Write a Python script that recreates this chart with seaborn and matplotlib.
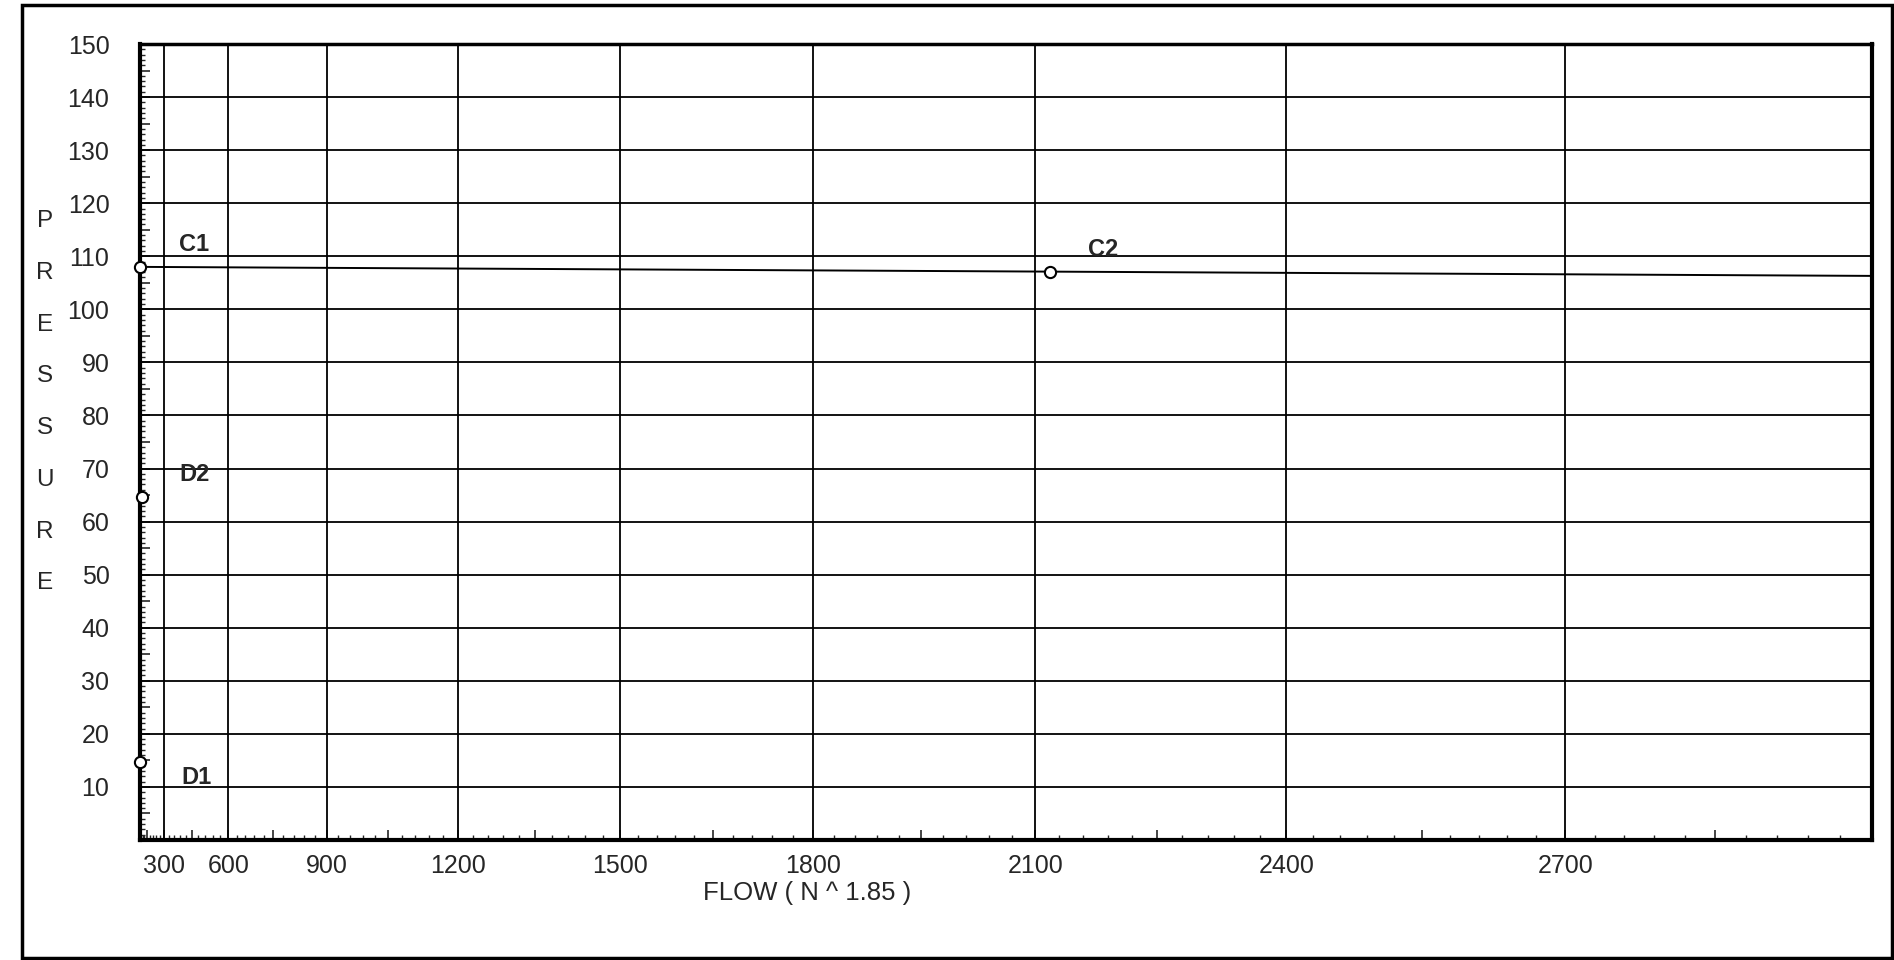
import numpy as np
import pandas as pd
import matplotlib
matplotlib.use("Agg")
import matplotlib.pyplot as plt
import matplotlib.ticker as mticker
from matplotlib.patches import Rectangle
import seaborn as sns

# Data (flow in gpm, pressure in psi)
point_labels = ["C1", "C2", "D2", "D1"]
point_flow = [0, 2118, 75, 0]
point_pressure = [108.0, 107.1, 64.6, 14.7]

supply_flow = [0, 3000]
supply_pressure = [108.0, 106.3]

x_tick_values = [300, 600, 900, 1200, 1500, 1800, 2100, 2400, 2700]
y_tick_values = [10, 20, 30, 40, 50, 60, 70, 80, 90, 100, 110, 120, 130, 140, 150]

# label offsets in points (dx, dy)
label_offsets = {"C1": (28, 16), "C2": (28, 16), "D2": (27, 16), "D1": (30, -11.5)}


def forward(x):
    x = np.asarray(x, dtype=float)
    return np.sign(x) * np.abs(x) ** 1.85


def inverse(x):
    x = np.asarray(x, dtype=float)
    return np.sign(x) * np.abs(x) ** (1 / 1.85)


sns.set_style("white")
plt.rcParams['font.family'] = ['Liberation Sans', 'DejaVu Sans']

fig = plt.figure(figsize=(18.94, 9.6), dpi=100)
ax = fig.add_axes([140 / 1894, 1 - 840 / 960, 1732 / 1894, 796 / 960])

ax.set_xscale('function', functions=(forward, inverse))
ax.set_xlim(0, 3000)
ax.set_ylim(0, 150)

# grid lines drawn by hand so that tick levels can differ
for xv in x_tick_values:
    ax.axvline(xv, color='black', lw=1.3, zorder=1)
for yv in y_tick_values[:-1]:
    ax.axhline(yv, color='black', lw=1.3, zorder=1)

df_line = pd.DataFrame({'flow': supply_flow, 'pressure': supply_pressure})
sns.lineplot(data=df_line, x='flow', y='pressure', color='black', lw=1.4, ax=ax, zorder=3)

df_pts = pd.DataFrame({'flow': point_flow, 'pressure': point_pressure, 'label': point_labels})
sns.scatterplot(data=df_pts, x='flow', y='pressure', marker='o', s=65,
                facecolor='white', edgecolor='black', linewidth=1.5, ax=ax, zorder=4,
                clip_on=False)

for lab, fx, py in zip(point_labels, point_flow, point_pressure):
    ax.annotate(lab, (fx, py), xytext=label_offsets[lab], textcoords='offset points',
                ha='left', va='center', fontsize=17, fontweight='bold')

# ticks: labelled majors, medium ticks, small minors
x_major = np.arange(150, 3000, 150)
ax.xaxis.set_major_locator(mticker.FixedLocator(x_major))
ax.xaxis.set_major_formatter(mticker.FuncFormatter(
    lambda v, pos: f"{int(round(v))}" if int(round(v)) in x_tick_values else ""))
ax.xaxis.set_minor_locator(mticker.FixedLocator(np.arange(0, 3001, 30)))

y_major = np.arange(5, 151, 5)
ax.yaxis.set_major_locator(mticker.FixedLocator(y_major))
ax.yaxis.set_major_formatter(mticker.FuncFormatter(
    lambda v, pos: f"{int(round(v))}" if int(round(v)) in y_tick_values else ""))
ax.yaxis.set_minor_locator(mticker.FixedLocator(np.arange(0, 151, 1)))

ax.tick_params(axis='x', which='major', direction='in', length=7, width=1.2, pad=10,
               labelsize=18, bottom=True)
ax.tick_params(axis='x', which='minor', direction='in', length=3.5, width=1.0, bottom=True)
ax.tick_params(axis='y', which='major', direction='in', length=7, width=1.2, pad=22,
               labelsize=18, left=True)
ax.tick_params(axis='y', which='minor', direction='in', length=3.5, width=1.0, left=True)

for side in ['left', 'right', 'top', 'bottom']:
    ax.spines[side].set_visible(True)
    ax.spines[side].set_color('black')
ax.spines['left'].set_linewidth(3)
ax.spines['bottom'].set_linewidth(3)
ax.spines['right'].set_linewidth(3)
ax.spines['top'].set_linewidth(2.5)

ax.set_xlabel("FLOW ( N ^ 1.85 )", fontsize=18.5)
ax.xaxis.set_label_coords(0.385, -0.051)
ax.set_ylabel("\n".join("PRESSURE"), fontsize=17.5, rotation=0, linespacing=2.75,
              va='center', ha='center')
ax.yaxis.set_label_coords(-0.055, 0.55)

fig.patches.append(Rectangle((22 / 1894, 2 / 960), (1892 - 22) / 1894, (955 - 2) / 960,
                             transform=fig.transFigure, fill=False, edgecolor='black',
                             lw=2.5))

fig.savefig("out.png", dpi=100)
